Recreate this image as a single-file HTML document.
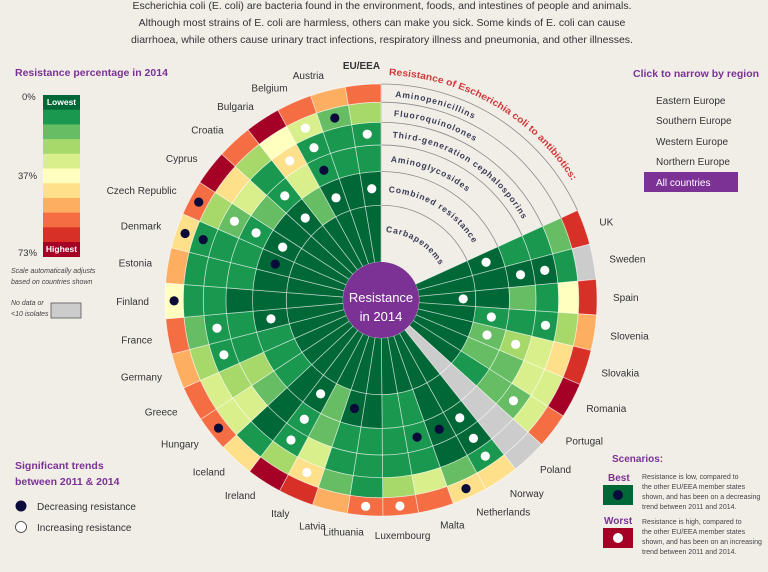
<!DOCTYPE html>
<html><head><meta charset="utf-8"><style>
body{margin:0;background:#f1eee8;font-family:"Liberation Sans",sans-serif;}
svg{display:block}
</style></head><body>
<svg id="chart" width="768" height="572" viewBox="0 0 768 572">
<rect width="768" height="572" fill="#f1eee8"/>
<g font-size="10.5" fill="#333" text-anchor="middle">
<text x="382" y="9">Escherichia coli (E. coli) are bacteria found in the environment, foods, and intestines of people and animals.</text>
<text x="382" y="26">Although most strains of E. coli are harmless, others can make you sick. Some kinds of E. coli can cause</text>
<text x="382" y="43">diarrhoea, while others cause urinary tract infections, respiratory illness and pneumonia, and other illnesses.</text>
</g>
<text x="15" y="76" font-size="10.5" font-weight="bold" fill="#7b3294">Resistance percentage in 2014</text>
<g id="legend"></g>
<text x="22" y="100" font-size="9.5" fill="#333">0%</text>
<text x="18" y="179" font-size="9.5" fill="#333">37%</text>
<text x="18" y="256" font-size="9.5" fill="#333">73%</text>
<g font-size="7" font-style="italic" fill="#444">
<text x="11" y="273">Scale automatically adjusts</text><text x="11" y="284">based on countries shown</text></g>
<g font-size="7" font-style="italic" fill="#444">
<text x="11" y="305">No data or</text><text x="11" y="316">&lt;10 isolates</text></g>
<rect x="51" y="303" width="30" height="15" fill="#cccccc" stroke="#555" stroke-width="0.8"/>

<text x="633" y="77" font-size="10.5" font-weight="bold" fill="#7b3294">Click to narrow by region</text>
<g font-size="10" fill="#333">
<text x="656" y="104">Eastern Europe</text>
<text x="656" y="124">Southern Europe</text>
<text x="656" y="145">Western Europe</text>
<text x="656" y="165">Northern Europe</text>
</g>
<g>
<rect x="644" y="172" width="94" height="20" fill="#7b3294"/>
<text x="656" y="186" font-size="10" fill="#fff">All countries</text></g>

<g font-size="10.5" font-weight="bold" fill="#7b3294">
<text x="15" y="469">Significant trends</text><text x="15" y="485">between 2011 &amp; 2014</text></g>
<circle cx="21" cy="506" r="5.5" fill="#0b0b3b"/>
<text x="37" y="510" font-size="10" fill="#333">Decreasing resistance</text>
<circle cx="21" cy="527" r="5.5" fill="#fff" stroke="#333" stroke-width="0.8"/>
<text x="37" y="531" font-size="10" fill="#333">Increasing resistance</text>

<text x="612" y="462" font-size="10" font-weight="bold" fill="#7b3294">Scenarios:</text>
<text x="608" y="481" font-size="10" font-weight="bold" fill="#7b3294">Best</text>
<rect x="603" y="485" width="30" height="20" fill="#006837"/>
<circle cx="618" cy="495" r="5" fill="#0b0b3b"/>
<g font-size="7" fill="#444">
<text x="642" y="479">Resistance is low, compared to</text><text x="642" y="489">the other EU/EEA member states</text><text x="642" y="499">shown, and has been on a decreasing</text><text x="642" y="509">trend between 2011 and 2014.</text></g>
<text x="604" y="524" font-size="10" font-weight="bold" fill="#7b3294">Worst</text>
<rect x="603" y="528" width="30" height="20" fill="#a50026"/>
<circle cx="618" cy="538" r="5" fill="#fff"/>
<g font-size="7" fill="#444">
<text x="642" y="524">Resistance is high, compared to</text><text x="642" y="534">the other EU/EEA member states</text><text x="642" y="544">shown, and has been on an increasing</text><text x="642" y="554">trend between 2011 and 2014.</text></g>

<defs id="defs"></defs>
<g id="guides"></g>
<g id="cells"></g>
<g id="dots"></g>
<g id="labels" font-size="10" fill="#333"></g>
<g id="ringlabels"></g>
<g>
<circle cx="381" cy="300" r="38" fill="#7b3294"/>
<text x="381" y="302" font-size="13" fill="#fff" text-anchor="middle">Resistance</text>
<text x="381" y="321" font-size="13" fill="#fff" text-anchor="middle">in 2014</text></g>
</svg>
<script>
const countries=["UK","Sweden","Spain","Slovenia","Slovakia","Romania","Portugal","Poland","Norway","Netherlands","Malta","Luxembourg","Lithuania","Latvia","Italy","Ireland","Iceland","Hungary","Greece","Germany","France","Finland","Estonia","Denmark","Czech Republic","Cyprus","Croatia","Bulgaria","Belgium","Austria","EU/EEA"];
const antibiotics=["Carbapenems","Combined resistance","Aminoglycosides","Third-generation cephalosporins","Fluoroquinolones","Aminopenicillins"];
const carbapenems=[3,3,3,3,3,3,3,null,3,3,3,3,3,3,3,3,3,3,3,3,3,3,3,3,3,3,3,3,3,3,3];
const combined=[3,3,3,10,16,16,10,null,3,3,10,10,3,3,16,3,3,10,10,10,3,3,3,3,3,3,3,16,3,3,3];
const aminoglycosides=[10,3,16,10,23,16,16,null,3,3,10,10,10,10,16,10,3,16,23,10,10,3,10,10,10,16,10,30,10,10,10];
const thirdGenCeph=[10,3,10,10,30,30,16,null,3,3,10,10,10,10,30,10,3,30,23,10,10,10,10,10,16,30,10,43,10,10,10];
const fluoroquinolones=[16,10,36,23,43,30,30,null,10,16,30,23,10,16,43,23,10,30,30,23,16,10,10,10,23,43,23,36,30,16,23];
const aminopenicillins=[63,null,63,50,63,70,56,null,43,43,56,56,56,50,63,70,43,56,56,50,56,36,50,43,56,70,56,70,56,50,56];
const trendCarbapenems="--i----------------------------".split("");
const trendCombined="i--ii--------d-i----i--di-i-i-i".split("");
const trendAminoglycosides="-i--i---idd----i--------i-i-d--".split("");
const trendThirdGen="-i-i--i-i------i---ii---i--ii-i".split("");
const trendFluoro="--------i-----i--------d----id-".split("");
const trendAminopen="---------d-ii----d---d-dd------".split("");
const scaleMax=73;
const palette=["#006837","#1a9850","#66bd63","#a6d96a","#d9ef8b","#ffffbf","#fee08b","#fdae61","#f46d43","#d73027","#a50026"];

const series=[carbapenems,combined,aminoglycosides,thirdGenCeph,fluoroquinolones,aminopenicillins];
const trends=[trendCarbapenems,trendCombined,trendAminoglycosides,trendThirdGen,trendFluoro,trendAminopen];
const NS="http://www.w3.org/2000/svg";
const cx=381,cy=300,r0=38,R=216,gapDeg=65.5;
const step=(360-gapDeg)/countries.length;
function ringR(k){return Math.sqrt(r0*r0+k*(R*R-r0*r0)/antibiotics.length);}
function angleOf(i){return gapDeg+step*i;}
function pt(a,r){const t=a*Math.PI/180;return [cx+r*Math.sin(t),cy-r*Math.cos(t)];}
function colorOf(v){if(v===null)return "#cccccc";return palette[Math.max(0,Math.min(10,Math.floor(v/scaleMax*11)))];}
function el(tag,attrs,parent){const e=document.createElementNS(NS,tag);for(const k in attrs)e.setAttribute(k,attrs[k]);parent.appendChild(e);return e;}
function sectorPath(a1,a2,ri,ro){const p1=pt(a1,ro),p2=pt(a2,ro),p3=pt(a2,ri),p4=pt(a1,ri);const lg=(a2-a1)>180?1:0;
return `M${p1[0]},${p1[1]}A${ro},${ro} 0 ${lg} 1 ${p2[0]},${p2[1]}L${p3[0]},${p3[1]}A${ri},${ri} 0 ${lg} 0 ${p4[0]},${p4[1]}Z`;}

const lg=document.getElementById("legend");
for(let i=0;i<11;i++){
  const r=el("rect",{x:43,y:95+i*14.7,width:37,height:15,fill:palette[i]},lg);
  
  
}
el("text",{x:61.5,y:105,"font-size":8.5,fill:"#fff","text-anchor":"middle","font-weight":"bold"},lg).textContent="Lowest";
el("text",{x:61.5,y:252,"font-size":8.5,fill:"#fff","text-anchor":"middle","font-weight":"bold"},lg).textContent="Highest";

const gd=document.getElementById("guides");
for(let k=1;k<=antibiotics.length;k++){
  const r=ringR(k),p1=pt(0,r),p2=pt(gapDeg,r);
  const g=el("path",{d:`M${p1[0]},${p1[1]}A${r},${r} 0 0 1 ${p2[0]},${p2[1]}`,fill:"none",stroke:"#8a8a8a","stroke-width":0.8},gd);
  
  
}
const ax=pt(0,R);
el("line",{x1:cx,y1:cy,x2:ax[0],y2:ax[1],stroke:"#8a8a8a","stroke-width":0.8},gd);

const cg=document.getElementById("cells"),dg=document.getElementById("dots");
for(let i=0;i<countries.length;i++){
  const a1=angleOf(i),a2=a1+step;
  for(let k=0;k<series.length;k++){
    const v=series[k][i];
    const c=el("path",{d:sectorPath(a1,a2,k===0?r0:ringR(k),ringR(k+1)),fill:colorOf(v),stroke:"rgba(255,255,255,0.55)","stroke-width":0.8},cg);
    
    
    const t=trends[k][i];
    if(t==="i"||t==="d"){
      const rm=k===0?(ringR(0.5)+10):(ringR(k)+ringR(k+1))/2;
      const p=pt(a1+step/2,rm);
      const d=el("circle",{cx:p[0],cy:p[1],r:4.6,fill:t==="d"?"#0b0b3b":"#ffffff"},dg);
      
      
    }
  }
  const am=a1+step/2;
  let anchor=am<180?"start":"end";
  if((am>171&&am<182)||Math.abs(am-360)<6)anchor="middle";
  const p=pt(am,anchor==="middle"?236:232);
  const lt=el("text",{x:p[0],y:p[1]+4,"text-anchor":anchor,"font-weight":countries[i]==="EU/EEA"?"bold":"normal"},document.getElementById("labels"));
  lt.textContent=countries[i];
  
  
}

const defs=document.getElementById("defs"),rl=document.getElementById("ringlabels");
function arcDef(id,r,a1,a2){const p1=pt(a1,r),p2=pt(a2,r);el("path",{id:id,d:`M${p1[0]},${p1[1]}A${r},${r} 0 0 1 ${p2[0]},${p2[1]}`},defs);}
for(let k=0;k<antibiotics.length;k++){
  const rIn=k===0?r0+10:ringR(k),rOut=ringR(k+1);
  const r=k===0?68:(rIn+rOut)/2-3.5;
  arcDef("ra"+k,r,4,64);
  const t=el("text",{"font-size":8.5,"font-weight":"bold",fill:"#3b3b55","letter-spacing":"0.9"},rl);
  
  
  const tp=el("textPath",{href:"#ra"+k},t);tp.textContent=antibiotics[k];
}
arcDef("titlearc",225,2,66);
const tt=el("text",{"font-size":9.5,"font-weight":"bold",fill:"#d03a3a"},rl);


const ttp=el("textPath",{href:"#titlearc",textLength:"220",lengthAdjust:"spacingAndGlyphs"},tt);ttp.textContent="Resistance of Escherichia coli to antibiotics:";
</script>
</body></html>
